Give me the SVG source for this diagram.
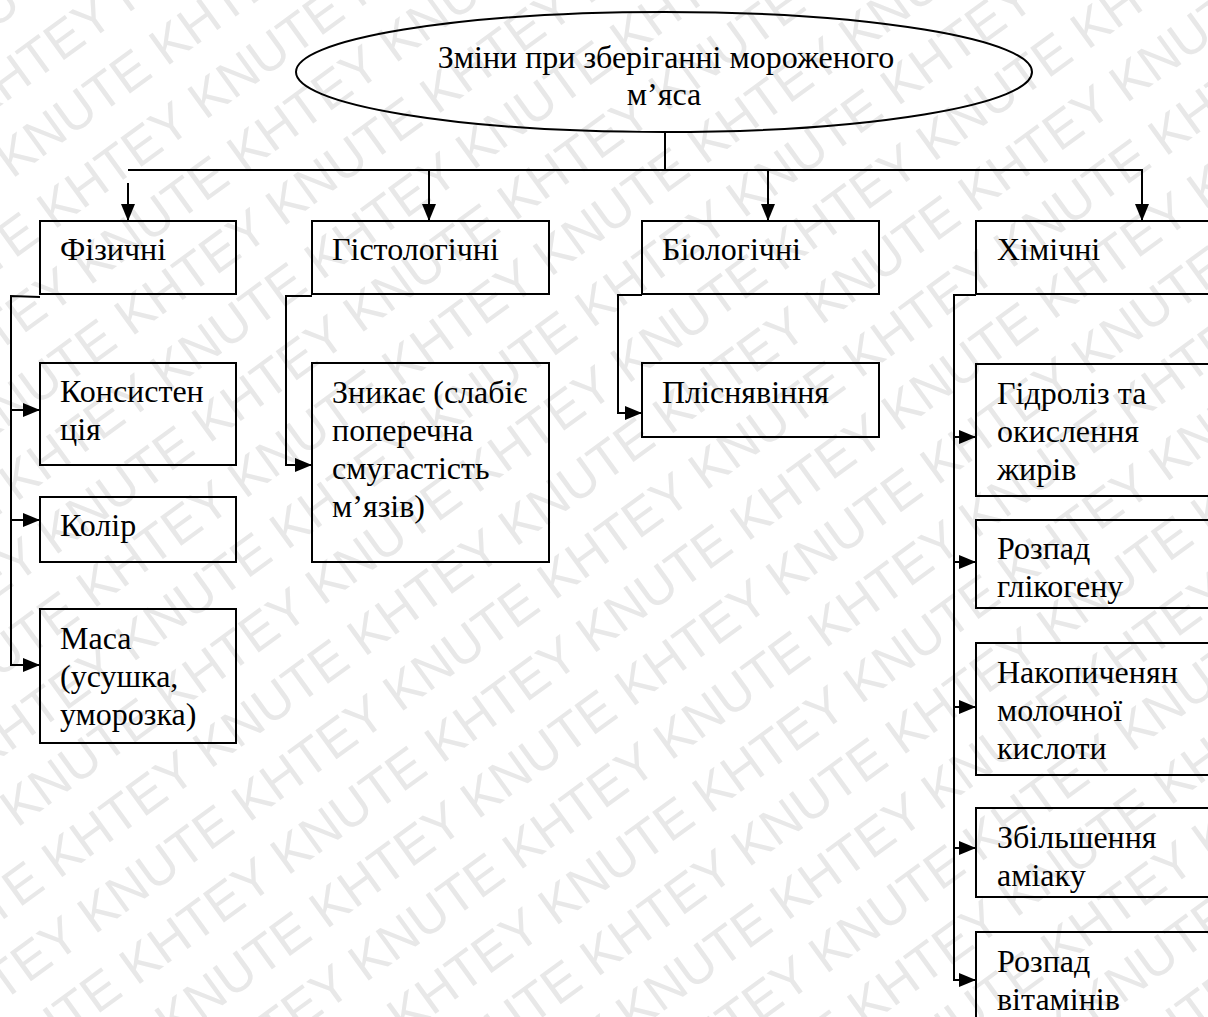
<svg xmlns="http://www.w3.org/2000/svg" width="1208" height="1017" viewBox="0 0 1208 1017">
<style>
.wm{font-family:"Liberation Sans",Arial,sans-serif;font-size:52px;fill:#e8e8e8}
.box{fill:none;stroke:#000;stroke-width:2}
.t{font-family:"Liberation Serif","Times New Roman",serif;font-size:32px;fill:#000}
.c{fill:none;stroke:#000;stroke-width:2}
</style>
<defs>
<marker id="ah" markerUnits="userSpaceOnUse" markerWidth="17" markerHeight="14" refX="17" refY="7" orient="auto">
<path d="M0,0 L17,7 L0,14 z" fill="#000"/>
</marker>
</defs>
<rect width="1208" height="1017" fill="#fff"/>
<g id="watermark" transform="rotate(-36)">
<text class="wm" x="-660" y="20">KHTEY KNUTE KHTEY KNUTE KHTEY KNUTE KHTEY KNUTE KHTEY KNUTE</text>
<text class="wm" x="-660" y="86">KNUTE KHTEY KNUTE KHTEY KNUTE KHTEY KNUTE KHTEY KNUTE KHTEY</text>
<text class="wm" x="-660" y="152">KHTEY KNUTE KHTEY KNUTE KHTEY KNUTE KHTEY KNUTE KHTEY KNUTE</text>
<text class="wm" x="-660" y="218">KNUTE KHTEY KNUTE KHTEY KNUTE KHTEY KNUTE KHTEY KNUTE KHTEY</text>
<text class="wm" x="-660" y="284">KHTEY KNUTE KHTEY KNUTE KHTEY KNUTE KHTEY KNUTE KHTEY KNUTE</text>
<text class="wm" x="-660" y="350">KNUTE KHTEY KNUTE KHTEY KNUTE KHTEY KNUTE KHTEY KNUTE KHTEY</text>
<text class="wm" x="-660" y="416">KHTEY KNUTE KHTEY KNUTE KHTEY KNUTE KHTEY KNUTE KHTEY KNUTE</text>
<text class="wm" x="-660" y="482">KNUTE KHTEY KNUTE KHTEY KNUTE KHTEY KNUTE KHTEY KNUTE KHTEY</text>
<text class="wm" x="-660" y="548">KHTEY KNUTE KHTEY KNUTE KHTEY KNUTE KHTEY KNUTE KHTEY KNUTE</text>
<text class="wm" x="-660" y="614">KNUTE KHTEY KNUTE KHTEY KNUTE KHTEY KNUTE KHTEY KNUTE KHTEY</text>
<text class="wm" x="-660" y="680">KHTEY KNUTE KHTEY KNUTE KHTEY KNUTE KHTEY KNUTE KHTEY KNUTE</text>
<text class="wm" x="-660" y="746">KNUTE KHTEY KNUTE KHTEY KNUTE KHTEY KNUTE KHTEY KNUTE KHTEY</text>
<text class="wm" x="-660" y="812">KHTEY KNUTE KHTEY KNUTE KHTEY KNUTE KHTEY KNUTE KHTEY KNUTE</text>
<text class="wm" x="-660" y="878">KNUTE KHTEY KNUTE KHTEY KNUTE KHTEY KNUTE KHTEY KNUTE KHTEY</text>
<text class="wm" x="-660" y="944">KHTEY KNUTE KHTEY KNUTE KHTEY KNUTE KHTEY KNUTE KHTEY KNUTE</text>
<text class="wm" x="-660" y="1010">KNUTE KHTEY KNUTE KHTEY KNUTE KHTEY KNUTE KHTEY KNUTE KHTEY</text>
<text class="wm" x="-660" y="1076">KHTEY KNUTE KHTEY KNUTE KHTEY KNUTE KHTEY KNUTE KHTEY KNUTE</text>
<text class="wm" x="-660" y="1142">KNUTE KHTEY KNUTE KHTEY KNUTE KHTEY KNUTE KHTEY KNUTE KHTEY</text>
<text class="wm" x="-660" y="1208">KHTEY KNUTE KHTEY KNUTE KHTEY KNUTE KHTEY KNUTE KHTEY KNUTE</text>
<text class="wm" x="-660" y="1274">KNUTE KHTEY KNUTE KHTEY KNUTE KHTEY KNUTE KHTEY KNUTE KHTEY</text>
<text class="wm" x="-660" y="1340">KHTEY KNUTE KHTEY KNUTE KHTEY KNUTE KHTEY KNUTE KHTEY KNUTE</text>
<text class="wm" x="-660" y="1406">KNUTE KHTEY KNUTE KHTEY KNUTE KHTEY KNUTE KHTEY KNUTE KHTEY</text>
<text class="wm" x="-660" y="1472">KHTEY KNUTE KHTEY KNUTE KHTEY KNUTE KHTEY KNUTE KHTEY KNUTE</text>
<text class="wm" x="-660" y="1538">KNUTE KHTEY KNUTE KHTEY KNUTE KHTEY KNUTE KHTEY KNUTE KHTEY</text>
<text class="wm" x="-660" y="1604">KHTEY KNUTE KHTEY KNUTE KHTEY KNUTE KHTEY KNUTE KHTEY KNUTE</text>
</g>
<g id="connectors">
<path class="c" d="M665,132 V170"/>
<path class="c" d="M128,170 H1143"/>
<path class="c" d="M128,183 V221" marker-end="url(#ah)"/>
<path class="c" d="M429,170 V221" marker-end="url(#ah)"/>
<path class="c" d="M768,170 V221" marker-end="url(#ah)"/>
<path class="c" d="M1142,170 V221" marker-end="url(#ah)"/>
<path class="c" d="M40,297 L11,296 V665 H40" marker-end="url(#ah)"/>
<path class="c" d="M11,410 H40" marker-end="url(#ah)"/>
<path class="c" d="M11,520 H40" marker-end="url(#ah)"/>
<path class="c" d="M312,296 H286 V465 H312" marker-end="url(#ah)"/>
<path class="c" d="M642,295 H618 V413 H642" marker-end="url(#ah)"/>
<path class="c" d="M976,295 H954 V980 H976" marker-end="url(#ah)"/>
<path class="c" d="M954,437 H976" marker-end="url(#ah)"/>
<path class="c" d="M954,562 H976" marker-end="url(#ah)"/>
<path class="c" d="M954,707 H976" marker-end="url(#ah)"/>
<path class="c" d="M954,848 H976" marker-end="url(#ah)"/>
</g>
<g id="root">
<ellipse class="box" cx="664" cy="72" rx="368" ry="60"/>
<text class="t" text-anchor="middle"><tspan x="666" y="68">Зміни при зберіганні мороженого</tspan><tspan x="664" y="105">м’яса</tspan></text>
</g>
<g id="fizychni">
<rect class="box" x="40" y="221" width="196" height="73"/>
<text class="t" x="60" y="260">Фізичні</text>
</g>
<g id="konsystentsiia">
<rect class="box" x="40" y="363" width="196" height="102"/>
<text class="t"><tspan x="60" y="402">Консистен</tspan><tspan x="60" y="440">ція</tspan></text>
</g>
<g id="kolir">
<rect class="box" x="40" y="497" width="196" height="65"/>
<text class="t" x="60" y="536">Колір</text>
</g>
<g id="masa">
<rect class="box" x="40" y="609" width="196" height="134"/>
<text class="t"><tspan x="60" y="649">Маса</tspan><tspan x="60" y="687">(усушка,</tspan><tspan x="60" y="725">уморозка)</tspan></text>
</g>
<g id="histolohichni">
<rect class="box" x="312" y="221" width="237" height="73"/>
<text class="t" x="332" y="260">Гістологічні</text>
</g>
<g id="znykaie">
<rect class="box" x="312" y="363" width="237" height="199"/>
<text class="t"><tspan x="332" y="403">Зникає (слабіє</tspan><tspan x="332" y="441">поперечна</tspan><tspan x="332" y="479">смугастість</tspan><tspan x="332" y="517">м’язів)</tspan></text>
</g>
<g id="biolohichni">
<rect class="box" x="642" y="221" width="237" height="73"/>
<text class="t" x="662" y="260">Біологічні</text>
</g>
<g id="plisniavinnia">
<rect class="box" x="642" y="363" width="237" height="74"/>
<text class="t" x="662" y="403">Пліснявіння</text>
</g>
<g id="khimichni">
<rect class="box" x="976" y="221" width="240" height="73"/>
<text class="t" x="997" y="260">Хімічні</text>
</g>
<g id="hidroliz">
<rect class="box" x="976" y="364" width="240" height="132"/>
<text class="t"><tspan x="997" y="404">Гідроліз та</tspan><tspan x="997" y="442">окислення</tspan><tspan x="997" y="480">жирів</tspan></text>
</g>
<g id="rozpad-hlikohenu">
<rect class="box" x="976" y="520" width="240" height="88"/>
<text class="t"><tspan x="997" y="559">Розпад</tspan><tspan x="997" y="597">глікогену</tspan></text>
</g>
<g id="nakopychennia">
<rect class="box" x="976" y="643" width="240" height="132"/>
<text class="t"><tspan x="997" y="683">Накопиченян</tspan><tspan x="997" y="721">молочної</tspan><tspan x="997" y="759">кислоти</tspan></text>
</g>
<g id="zbilshennia">
<rect class="box" x="976" y="808" width="240" height="89"/>
<text class="t"><tspan x="997" y="848">Збільшення</tspan><tspan x="997" y="886">аміаку</tspan></text>
</g>
<g id="rozpad-vitaminiv">
<rect class="box" x="976" y="932" width="240" height="100"/>
<text class="t"><tspan x="997" y="972">Розпад</tspan><tspan x="997" y="1010">вітамінів</tspan></text>
</g>
</svg>
